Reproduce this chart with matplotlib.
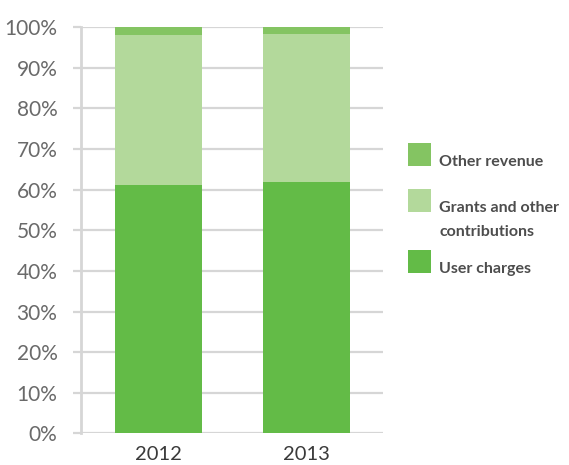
import matplotlib
matplotlib.use("Agg")
import matplotlib.pyplot as plt
from matplotlib.patches import Rectangle
import numpy as np

# data (share of revenue, %)
years = ["2012", "2013"]
user_charges = [61.2, 62.0]
grants = [37.0, 36.3]
other_revenue = [1.8, 1.7]

series_labels = ["Other revenue", "Grants and other\ncontributions", "User charges"]
c_user = "#63bb47"
c_grants = "#b3d99b"
c_other = "#84c462"
grid_c = "#d6d6d6"

plt.rcParams["font.family"] = ["Lato", "DejaVu Sans"]

fig = plt.figure(figsize=(5.69, 4.65), dpi=100)
W, H = 569, 465
ax = fig.add_axes([81 / W, 1 - 433.3 / H, (383 - 81) / W, (433.3 - 27.3) / H])

x = np.arange(len(years))
bw = 0.588
ax.bar(x, user_charges, bw, color=c_user, zorder=3)
ax.bar(x, grants, bw, bottom=user_charges, color=c_grants, zorder=3)
bottom2 = np.array(user_charges) + np.array(grants)
ax.bar(x, other_revenue, bw, bottom=bottom2, color=c_other, zorder=3)

ax.set_xlim(-0.524, 1.517)
ax.set_ylim(0, 100)
ax.set_yticks(np.arange(0, 101, 10))
ax.set_yticklabels([f"{v}%" for v in range(0, 101, 10)])
ax.set_xticks(x)
ax.set_xticklabels(years)

ax.yaxis.grid(True, color=grid_c, linewidth=1.6, zorder=0)
for s in ["top", "right", "bottom"]:
    ax.spines[s].set_visible(False)
ax.spines["left"].set_color(grid_c)
ax.spines["left"].set_linewidth(2.0)
ax.spines["left"].set_zorder(1)

ax.tick_params(axis="y", length=6, width=1.6, color=grid_c, pad=11,
               labelsize=15, labelcolor="#6a6a6a")
ax.tick_params(axis="x", length=0, pad=9, labelsize=14.5, labelcolor="#3a3a3a")

# legend drawn by hand, right of the plot
legend_colors = [c_other, c_grants, c_user]
patch_tops = [143, 189, 250]
for lab, col, top in zip(series_labels, legend_colors, patch_tops):
    fig.add_artist(Rectangle((408 / W, 1 - (top + 23) / H), 23 / W, 23 / H,
                             transform=fig.transFigure, color=col, lw=0))
    lines = lab.split("\n")
    for i, ln in enumerate(lines):
        fig.text(439 / W, 1 - (top + 23 + 24 * i) / H, ln, ha="left", va="baseline",
                 fontsize=11.5, fontweight="bold", color="#4d4d4d")

fig.savefig("out.png", dpi=100)
